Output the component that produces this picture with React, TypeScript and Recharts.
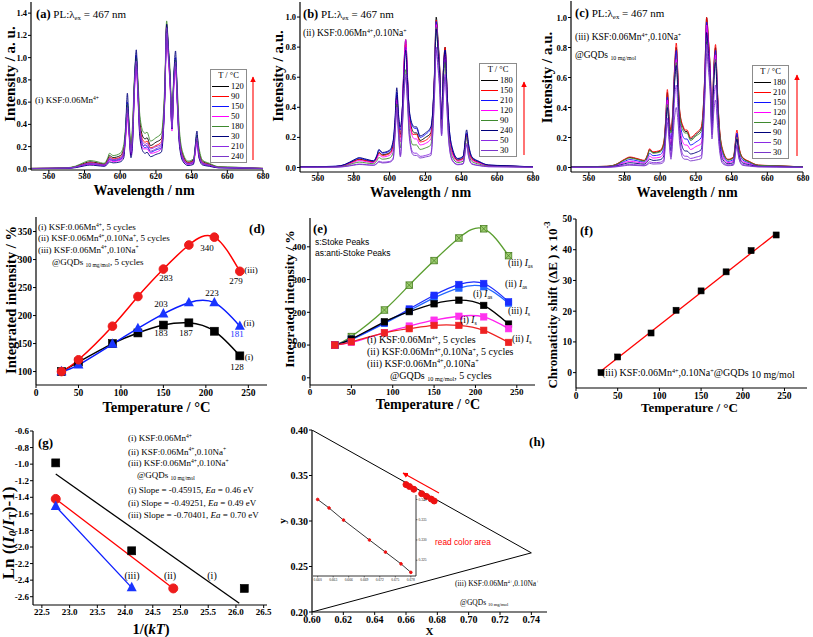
import React from 'react';
import { LineChart, ComposedChart, Line, Scatter, XAxis, YAxis } from 'recharts';

const SERIF = '"Liberation Serif", "Times New Roman", serif';
const SANS = '"Liberation Sans", Arial, sans-serif';

// ---------- (a)-(c) PL spectra ----------
const wavelengths = [550, 570, 575, 580, 583, 587, 591, 593, 594, 596, 600, 602, 603, 604, 605, 606, 607, 608, 609, 610, 611, 613, 614, 615, 617, 620, 623, 625, 626, 627, 628, 629, 630, 631, 632, 633, 635, 638, 641, 643, 644, 646, 650, 655, 665, 680];
const wlTicks = [560, 580, 600, 620, 640, 660, 680];

const tempsA = ['120', '90', '150', '50', '180', '30', '210', '240'];
const tempsB = ['180', '150', '210', '120', '90', '240', '50', '30'];
const tempsC = ['180', '210', '150', '120', '240', '90', '50', '30'];
const specColors = ['#000000', '#ff0000', '#1010ff', '#ff00ff', '#3e8a2e', '#00007a', '#8a2be2', '#7a36c8'];

// (a) KSF:0.06Mn4+
const a120 = [0.004, 0.009, 0.021, 0.051, 0.064, 0.055, 0.043, 0.085, 0.119, 0.102, 0.119, 0.187, 0.33, 0.55, 0.37, 0.19, 0.38, 0.8, 0.98, 0.72, 0.43, 0.28, 0.27, 0.28, 0.21, 0.24, 0.27, 0.72, 1.25, 1.05, 0.8, 0.4, 0.8, 0.95, 0.66, 0.34, 0.13, 0.06, 0.08, 0.27, 0.17, 0.07, 0.043, 0.017, 0.013, 0.004];
const a90 = [0.004, 0.008, 0.019, 0.045, 0.056, 0.049, 0.038, 0.075, 0.105, 0.09, 0.105, 0.165, 0.3, 0.5, 0.34, 0.17, 0.35, 0.76, 0.95, 0.68, 0.38, 0.25, 0.24, 0.25, 0.19, 0.21, 0.24, 0.7, 1.3, 1.02, 0.76, 0.38, 0.76, 0.9, 0.62, 0.31, 0.12, 0.055, 0.07, 0.25, 0.15, 0.06, 0.038, 0.015, 0.011, 0.004];
const a150 = [0.003, 0.006, 0.015, 0.036, 0.045, 0.039, 0.03, 0.06, 0.084, 0.072, 0.084, 0.132, 0.34, 0.6, 0.35, 0.13, 0.3, 0.78, 1.02, 0.68, 0.33, 0.2, 0.19, 0.2, 0.15, 0.17, 0.19, 0.68, 1.28, 1.06, 0.78, 0.36, 0.8, 1.0, 0.62, 0.28, 0.09, 0.045, 0.055, 0.3, 0.13, 0.05, 0.03, 0.012, 0.009, 0.003];
const a50 = [0.003, 0.006, 0.014, 0.033, 0.041, 0.036, 0.028, 0.055, 0.077, 0.066, 0.077, 0.121, 0.26, 0.45, 0.28, 0.12, 0.27, 0.7, 0.9, 0.6, 0.3, 0.18, 0.18, 0.18, 0.14, 0.15, 0.18, 0.62, 1.2, 0.98, 0.72, 0.34, 0.72, 0.88, 0.56, 0.26, 0.085, 0.04, 0.05, 0.22, 0.11, 0.045, 0.028, 0.011, 0.008, 0.003];
const a180 = [0.005, 0.01, 0.025, 0.06, 0.075, 0.065, 0.05, 0.1, 0.14, 0.12, 0.14, 0.22, 0.38, 0.58, 0.42, 0.22, 0.43, 0.84, 1.0, 0.78, 0.48, 0.33, 0.32, 0.33, 0.25, 0.28, 0.32, 0.78, 1.33, 1.1, 0.86, 0.45, 0.84, 0.98, 0.72, 0.39, 0.15, 0.07, 0.09, 0.3, 0.2, 0.08, 0.05, 0.02, 0.015, 0.005];
const a30 = [0.002, 0.005, 0.011, 0.027, 0.034, 0.029, 0.023, 0.045, 0.063, 0.054, 0.063, 0.1, 0.35, 0.68, 0.33, 0.1, 0.25, 0.78, 1.07, 0.65, 0.28, 0.15, 0.14, 0.15, 0.11, 0.13, 0.15, 0.66, 1.3, 1.08, 0.78, 0.36, 0.82, 1.06, 0.6, 0.24, 0.07, 0.03, 0.04, 0.34, 0.11, 0.036, 0.023, 0.009, 0.007, 0.002];
const a210 = [0.004, 0.007, 0.018, 0.042, 0.053, 0.046, 0.035, 0.07, 0.098, 0.084, 0.098, 0.154, 0.29, 0.5, 0.32, 0.16, 0.33, 0.72, 0.92, 0.64, 0.36, 0.23, 0.22, 0.23, 0.18, 0.2, 0.22, 0.66, 1.22, 1.0, 0.74, 0.37, 0.74, 0.92, 0.6, 0.3, 0.11, 0.05, 0.065, 0.24, 0.14, 0.056, 0.035, 0.014, 0.011, 0.004];
const a240 = [0.003, 0.007, 0.016, 0.039, 0.049, 0.042, 0.033, 0.065, 0.091, 0.078, 0.091, 0.143, 0.31, 0.55, 0.33, 0.15, 0.32, 0.77, 0.97, 0.67, 0.35, 0.21, 0.21, 0.21, 0.16, 0.18, 0.21, 0.68, 1.27, 1.04, 0.77, 0.37, 0.78, 0.96, 0.61, 0.29, 0.1, 0.045, 0.06, 0.28, 0.14, 0.052, 0.033, 0.013, 0.01, 0.003];

// (b) KSF:0.06Mn4+,0.10Na+
const b180 = [0.003, 0.007, 0.017, 0.043, 0.055, 0.047, 0.038, 0.072, 0.1, 0.085, 0.098, 0.15, 0.28, 0.48, 0.3, 0.22, 0.36, 0.68, 0.85, 0.6, 0.36, 0.24, 0.23, 0.23, 0.18, 0.2, 0.23, 0.62, 1.0, 0.85, 0.65, 0.3, 0.65, 0.8, 0.52, 0.28, 0.11, 0.05, 0.064, 0.22, 0.13, 0.06, 0.034, 0.014, 0.01, 0.003];
const b150 = [0.003, 0.006, 0.016, 0.04, 0.052, 0.044, 0.036, 0.068, 0.096, 0.08, 0.092, 0.144, 0.27, 0.47, 0.29, 0.2, 0.35, 0.66, 0.82, 0.58, 0.34, 0.22, 0.22, 0.22, 0.17, 0.18, 0.22, 0.6, 0.98, 0.83, 0.64, 0.29, 0.64, 0.8, 0.52, 0.27, 0.1, 0.048, 0.06, 0.22, 0.13, 0.056, 0.032, 0.014, 0.01, 0.003];
const b210 = [0.004, 0.008, 0.019, 0.048, 0.062, 0.052, 0.043, 0.081, 0.114, 0.095, 0.109, 0.171, 0.3, 0.5, 0.33, 0.25, 0.37, 0.64, 0.8, 0.58, 0.37, 0.27, 0.26, 0.26, 0.2, 0.22, 0.26, 0.6, 0.97, 0.82, 0.63, 0.31, 0.63, 0.78, 0.51, 0.3, 0.12, 0.057, 0.071, 0.23, 0.15, 0.067, 0.038, 0.016, 0.011, 0.004];
const b120 = [0.003, 0.006, 0.014, 0.035, 0.046, 0.039, 0.032, 0.06, 0.084, 0.07, 0.081, 0.126, 0.26, 0.45, 0.27, 0.17, 0.35, 0.68, 0.85, 0.59, 0.33, 0.2, 0.19, 0.19, 0.15, 0.16, 0.19, 0.58, 0.95, 0.8, 0.61, 0.27, 0.6, 0.75, 0.49, 0.25, 0.09, 0.042, 0.053, 0.2, 0.11, 0.049, 0.028, 0.012, 0.008, 0.003];
const b90 = [0.002, 0.004, 0.011, 0.028, 0.036, 0.03, 0.025, 0.047, 0.066, 0.055, 0.063, 0.1, 0.24, 0.42, 0.25, 0.13, 0.28, 0.53, 0.65, 0.47, 0.26, 0.15, 0.15, 0.15, 0.12, 0.13, 0.15, 0.56, 0.93, 0.78, 0.6, 0.26, 0.56, 0.7, 0.46, 0.22, 0.07, 0.033, 0.041, 0.2, 0.1, 0.039, 0.022, 0.009, 0.007, 0.002];
const b240 = [0.004, 0.008, 0.02, 0.05, 0.065, 0.055, 0.045, 0.085, 0.12, 0.1, 0.115, 0.18, 0.32, 0.53, 0.35, 0.27, 0.37, 0.62, 0.78, 0.57, 0.38, 0.28, 0.27, 0.27, 0.21, 0.23, 0.27, 0.58, 0.92, 0.78, 0.6, 0.32, 0.63, 0.78, 0.52, 0.3, 0.13, 0.06, 0.075, 0.25, 0.16, 0.07, 0.04, 0.017, 0.012, 0.004];
const b50 = [0.001, 0.003, 0.007, 0.018, 0.023, 0.019, 0.016, 0.03, 0.042, 0.035, 0.04, 0.063, 0.22, 0.4, 0.22, 0.08, 0.25, 0.5, 0.62, 0.44, 0.22, 0.1, 0.095, 0.095, 0.074, 0.08, 0.095, 0.48, 0.8, 0.68, 0.52, 0.22, 0.48, 0.62, 0.4, 0.18, 0.05, 0.021, 0.026, 0.16, 0.08, 0.025, 0.014, 0.006, 0.004, 0.001];
const b30 = [0.001, 0.002, 0.006, 0.015, 0.02, 0.017, 0.014, 0.026, 0.036, 0.03, 0.035, 0.054, 0.21, 0.38, 0.21, 0.07, 0.24, 0.48, 0.6, 0.42, 0.2, 0.085, 0.08, 0.08, 0.063, 0.07, 0.08, 0.46, 0.78, 0.66, 0.5, 0.21, 0.46, 0.6, 0.39, 0.17, 0.045, 0.018, 0.023, 0.15, 0.075, 0.021, 0.012, 0.005, 0.004, 0.001];

// (c) KSF:0.06Mn4+,0.10Na+@GQDs
const c180 = [0.004, 0.008, 0.019, 0.052, 0.067, 0.057, 0.046, 0.086, 0.119, 0.1, 0.109, 0.162, 0.3, 0.5, 0.32, 0.24, 0.36, 0.64, 0.8, 0.58, 0.36, 0.26, 0.24, 0.24, 0.19, 0.22, 0.26, 0.62, 1.0, 0.85, 0.65, 0.32, 0.65, 0.8, 0.52, 0.29, 0.11, 0.052, 0.067, 0.22, 0.14, 0.067, 0.038, 0.015, 0.011, 0.004];
const c210 = [0.004, 0.008, 0.02, 0.055, 0.07, 0.06, 0.048, 0.09, 0.125, 0.105, 0.115, 0.17, 0.31, 0.52, 0.33, 0.25, 0.37, 0.66, 0.83, 0.6, 0.37, 0.27, 0.25, 0.25, 0.2, 0.23, 0.27, 0.63, 1.0, 0.86, 0.66, 0.33, 0.66, 0.82, 0.53, 0.3, 0.12, 0.055, 0.07, 0.25, 0.15, 0.07, 0.04, 0.016, 0.012, 0.004];
const c150 = [0.003, 0.006, 0.015, 0.041, 0.053, 0.045, 0.036, 0.068, 0.094, 0.079, 0.086, 0.128, 0.28, 0.47, 0.29, 0.19, 0.33, 0.62, 0.78, 0.55, 0.32, 0.2, 0.19, 0.19, 0.15, 0.17, 0.2, 0.6, 0.97, 0.82, 0.63, 0.29, 0.62, 0.78, 0.5, 0.26, 0.09, 0.041, 0.053, 0.23, 0.12, 0.053, 0.03, 0.012, 0.009, 0.003];
const c120 = [0.002, 0.005, 0.012, 0.033, 0.042, 0.036, 0.029, 0.054, 0.075, 0.063, 0.069, 0.102, 0.26, 0.45, 0.27, 0.15, 0.3, 0.58, 0.72, 0.5, 0.28, 0.16, 0.15, 0.15, 0.12, 0.14, 0.16, 0.58, 0.95, 0.8, 0.61, 0.27, 0.6, 0.75, 0.48, 0.24, 0.072, 0.033, 0.042, 0.2, 0.1, 0.042, 0.024, 0.01, 0.007, 0.002];
const c240 = [0.004, 0.007, 0.018, 0.05, 0.063, 0.054, 0.043, 0.081, 0.113, 0.095, 0.104, 0.153, 0.26, 0.42, 0.28, 0.23, 0.32, 0.57, 0.7, 0.52, 0.34, 0.24, 0.23, 0.23, 0.18, 0.21, 0.24, 0.54, 0.84, 0.72, 0.56, 0.3, 0.58, 0.72, 0.47, 0.27, 0.11, 0.05, 0.063, 0.2, 0.13, 0.063, 0.036, 0.014, 0.011, 0.004];
const c90 = [0.002, 0.004, 0.009, 0.025, 0.032, 0.027, 0.022, 0.041, 0.056, 0.047, 0.052, 0.077, 0.24, 0.4, 0.24, 0.11, 0.27, 0.55, 0.68, 0.47, 0.24, 0.12, 0.11, 0.11, 0.09, 0.1, 0.12, 0.55, 0.9, 0.76, 0.58, 0.25, 0.56, 0.7, 0.45, 0.21, 0.054, 0.025, 0.032, 0.19, 0.09, 0.032, 0.018, 0.007, 0.005, 0.002];
const c50 = [0.001, 0.002, 0.006, 0.017, 0.021, 0.018, 0.014, 0.027, 0.038, 0.032, 0.035, 0.051, 0.2, 0.33, 0.2, 0.075, 0.22, 0.45, 0.55, 0.38, 0.19, 0.081, 0.075, 0.075, 0.06, 0.069, 0.081, 0.5, 0.82, 0.7, 0.53, 0.22, 0.45, 0.55, 0.36, 0.17, 0.036, 0.017, 0.021, 0.15, 0.07, 0.021, 0.012, 0.005, 0.004, 0.001];
const c30 = [0.001, 0.002, 0.004, 0.012, 0.015, 0.013, 0.011, 0.02, 0.028, 0.023, 0.025, 0.037, 0.18, 0.3, 0.17, 0.055, 0.18, 0.33, 0.4, 0.3, 0.15, 0.059, 0.055, 0.055, 0.044, 0.05, 0.059, 0.46, 0.76, 0.65, 0.49, 0.19, 0.37, 0.45, 0.3, 0.14, 0.026, 0.012, 0.015, 0.14, 0.065, 0.015, 0.009, 0.004, 0.003, 0.001];

const seriesA = [a120, a90, a150, a50, a180, a30, a210, a240];
const seriesB = [b180, b150, b210, b120, b90, b240, b50, b30];
const seriesC = [c180, c210, c150, c120, c240, c90, c50, c30];

// ---------- (d)-(f) vs temperature ----------
const temps = [30, 50, 90, 120, 150, 180, 210, 240];
const tempTicks = [0, 50, 100, 150, 200, 250];

const intensityI = [100, 117, 150, 169, 183, 187, 172, 128];
const intensityII = [100, 112, 149, 177, 203, 223, 223, 181];
const intensityIII = [100, 121, 181, 234, 283, 326, 340, 279];

const iiiAs = [100, 126, 207, 283, 358, 427, 455, 373];
const iiAs = [100, 118, 168, 210, 252, 285, 288, 232];
const iiiS = [100, 116, 166, 205, 244, 274, 278, 228];
const iAs = [100, 118, 171, 202, 226, 237, 221, 164];
const iiS = [100, 108, 138, 158, 176, 188, 186, 150];
const iS = [100, 110, 137, 150, 160, 160, 145, 108];

const shiftE = [0, 5.1, 12.9, 20.3, 26.6, 32.8, 39.7, 44.8];
const shiftFitT = [30, 240];
const shiftFit = [0.5, 45.3];

// ---------- (g) Arrhenius ----------
const invKtI = [22.75, 24.12, 26.15];
const lnI = [-0.985, -2.046, -2.5];
const fitIx = [22.75, 26.06];
const fitIy = [-1.12, -2.68];
const invKtII = [22.75, 24.87];
const lnII = [-1.42, -2.5];
const invKtIII = [22.75, 24.12];
const lnIII = [-1.51, -2.49];

// ---------- (h) CIE ----------
const gamutX = [0.6, 0.74, 0.6];
const gamutY = [0.4, 0.265, 0.2];
const cieX = [0.66, 0.6622, 0.665, 0.67, 0.6731, 0.6761, 0.678];
const cieY = [0.34, 0.3379, 0.3349, 0.33, 0.327, 0.3241, 0.322];

const axisStyle = { stroke: '#000', strokeWidth: 1.2 };
const tickStyle = (size: number) => ({ fontSize: size, fontWeight: 700, fill: '#000', fontFamily: SERIF });

const Sup = ({ children }: any) => (
  <span style={{ fontSize: '0.62em', position: 'relative', top: '-0.55em' }}>{children}</span>
);
const Sub = ({ children }: any) => (
  <span style={{ fontSize: '0.62em', position: 'relative', top: '0.3em' }}>{children}</span>
);

function Txt({ x, y, size = 9, bold = false, center = false, color = '#000', font = SERIF, children }: any) {
  return (
    <div
      style={{
        position: 'absolute', left: x, top: y,
        transform: center ? 'translate(-50%, -50%)' : 'translateY(-50%)',
        fontSize: size, fontWeight: bold ? 700 : 400, color, fontFamily: font,
        whiteSpace: 'nowrap', lineHeight: 1,
      }}
    >
      {children}
    </div>
  );
}

const yTitle = (x: number, shift: number, size: number, body: React.ReactNode) =>
  function YTitle(p: any) {
    const vb = p.viewBox ?? { y: 0, height: 0 };
    const cy = vb.y + vb.height / 2 + shift;
    return (
      <text x={x} y={cy} transform={`rotate(-90 ${x} ${cy})`} textAnchor="middle" dominantBaseline="central"
        fill="#000" style={{ fontFamily: SERIF, fontWeight: 700, fontSize: size }}>
        {body}
      </text>
    );
  };

const xTitle = (cy: number, shift: number, size: number, body: React.ReactNode) =>
  function XTitle(p: any) {
    const vb = p.viewBox ?? { x: 0, width: 0 };
    const cx = vb.x + vb.width / 2 + shift;
    return (
      <text x={cx} y={cy} textAnchor="middle" dominantBaseline="central" fill="#000"
        style={{ fontFamily: SERIF, fontWeight: 700, fontSize: size }}>
        {body}
      </text>
    );
  };

// top and right axis lines close the box
const frame = (xd: number[], yd: number[]) => [
  <XAxis key="fx" xAxisId="top" orientation="top" type="number" domain={xd} height={0} tick={false} tickLine={false} axisLine={axisStyle} allowDataOverflow />,
  <YAxis key="fy" yAxisId="right" orientation="right" type="number" domain={yd} width={0} tick={false} tickLine={false} axisLine={axisStyle} allowDataOverflow />,
];

const squareDot = (size: number, fill: string, stroke = fill) => (p: any) => {
  if (p.cx == null || p.cy == null) return <g key={p.index} />;
  return <rect key={p.index} x={p.cx - size / 2} y={p.cy - size / 2} width={size} height={size} fill={fill} stroke={stroke} strokeWidth={0.6} />;
};
const crossDot = (size: number, fill: string, stroke: string) => (p: any) => {
  if (p.cx == null || p.cy == null) return <g key={p.index} />;
  const h = size / 2;
  return (
    <g key={p.index}>
      <rect x={p.cx - h} y={p.cy - h} width={size} height={size} fill={fill} stroke={stroke} strokeWidth={0.8} />
      <path d={`M${p.cx - h},${p.cy - h}L${p.cx + h},${p.cy + h}M${p.cx + h},${p.cy - h}L${p.cx - h},${p.cy + h}`} stroke={stroke} strokeWidth={0.7} />
    </g>
  );
};
const circleDot = (r: number, fill: string) => (p: any) => {
  if (p.cx == null || p.cy == null) return <g key={p.index} />;
  return <circle key={p.index} cx={p.cx} cy={p.cy} r={r} fill={fill} stroke={fill} />;
};
const triangleDot = (size: number, fill: string) => (p: any) => {
  if (p.cx == null || p.cy == null) return <g key={p.index} />;
  const { cx, cy } = p;
  return <path key={p.index} d={`M${cx},${cy - size * 0.58}L${cx + size / 2},${cy + size * 0.36}L${cx - size / 2},${cy + size * 0.36}Z`} fill={fill} />;
};

function SpectrumPanel(props: any) {
  const { left, width, margin, yAxisWidth, series, yDomain, yTicks, title, yTitleX, yTitleShift, xTitleShift, xTitleY } = props;
  const rows = wavelengths.map((w, i) => {
    const r: Record<string, number> = { w };
    series.forEach((s: number[], k: number) => { r['s' + k] = s[i]; });
    return r;
  });
  return (
    <div style={{ position: 'absolute', left, top: 0 }}>
      <LineChart width={width} height={210} data={rows} margin={margin}>
        <XAxis dataKey="w" type="number" domain={[550, 680]} ticks={wlTicks} interval={0} height={30}
          tick={tickStyle(8.5)} tickSize={3} tickMargin={0} axisLine={axisStyle} tickLine={{ stroke: '#000' }} allowDataOverflow
          label={{ content: xTitle(xTitleY, xTitleShift, 14, 'Wavelength / nm') }} />
        <YAxis type="number" domain={yDomain} ticks={yTicks} interval={0} width={yAxisWidth}
          tick={tickStyle(8.5)} tickSize={3} tickMargin={1} axisLine={axisStyle} tickLine={{ stroke: '#000' }} allowDataOverflow
          tickFormatter={(v: number) => v.toFixed(1)}
          label={{ content: yTitle(yTitleX, yTitleShift, 15, title) }} />
        {frame([550, 680], yDomain)}
        {series.map((_: number[], k: number) => (
          <Line key={k} dataKey={'s' + k} type="monotone" stroke={specColors[k]} strokeWidth={0.9} dot={false} isAnimationActive={false} />
        ))}
      </LineChart>
    </div>
  );
}

function TempLegend({ x, y, w, temps: list }: any) {
  return (
    <div style={{ position: 'absolute', left: x, top: y, width: w, border: '1px solid #8c8c8c', background: '#fff', fontFamily: SERIF, fontSize: 8.5, boxSizing: 'border-box', paddingBottom: 1 }}>
      <div style={{ height: 11, lineHeight: '11px', textAlign: 'center' }}>T / °C</div>
      {list.map((t: string, i: number) => (
        <div key={t} style={{ height: 10, display: 'flex', alignItems: 'center' }}>
          <span style={{ width: 17, marginLeft: 1, marginRight: 2, borderTop: `1.3px solid ${specColors[i]}` }} />
          <span>{t}</span>
        </div>
      ))}
    </div>
  );
}

const KSF = () => <>KSF:0.06Mn<Sup>4+</Sup></>;
const KSFNa = () => <>KSF:0.06Mn<Sup>4+</Sup>,0.10Na<Sup>+</Sup></>;

const tickCss = `
.fig .recharts-cartesian-axis-tick-value { font-family: "Liberation Serif", "Times New Roman", serif; font-weight: 700; }
.fig .inset .recharts-cartesian-axis-tick-value { font-weight: 400; }
`;

export default function App() {
  const dRows = temps.map((t, i) => ({ t, i: intensityI[i], ii: intensityII[i], iii: intensityIII[i] }));
  const eRows = temps.map((t, i) => ({ t, iiiAs: iiiAs[i], iiAs: iiAs[i], iiiS: iiiS[i], iAs: iAs[i], iiS: iiS[i], iS: iS[i] }));
  const fRows = temps.map((t, i) => ({ x: t, y: shiftE[i] }));
  const fFit = shiftFitT.map((t, i) => ({ x: t, y: shiftFit[i] }));
  const gRowsI = invKtI.map((x, i) => ({ x, y: lnI[i] }));
  const gFitI = fitIx.map((x, i) => ({ x, y: fitIy[i] }));
  const gRowsII = invKtII.map((x, i) => ({ x, y: lnII[i] }));
  const gRowsIII = invKtIII.map((x, i) => ({ x, y: lnIII[i] }));
  const gamut = gamutX.map((x, i) => ({ x, y: gamutY[i] }));
  const cie = cieX.map((x, i) => ({ x, y: cieY[i] }));

  const tAxisTitle = (cy: number, shift: number, size: number) => ({ content: xTitle(cy, shift, size, 'Temperature / °C') });

  return (
    <div className="fig" style={{ position: 'absolute', left: 0, top: 0, width: 813, height: 637, background: '#fff', overflow: 'hidden' }}>
      <style>{tickCss}</style>
      {/* (a) (b) (c) */}
      <SpectrumPanel left={0} width={280} margin={{ top: 2, right: 17, bottom: 10, left: 0 }} yAxisWidth={31}
        series={seriesA} yDomain={[-0.01, 1.5]} yTicks={[0, 0.2, 0.4, 0.6, 0.8, 1.0, 1.2, 1.4]}
        title="Intensity / a. u." yTitleX={10} yTitleShift={-12} xTitleShift={-3} xTitleY={190} />
      <SpectrumPanel left={270} width={280} margin={{ top: 2, right: 17, bottom: 8, left: 0 }} yAxisWidth={30}
        series={seriesB} yDomain={[-0.03, 1.1]} yTicks={[0, 0.2, 0.4, 0.6, 0.8, 1.0]}
        title="Intensity / a.u." yTitleX={8} yTitleShift={-11} xTitleShift={4} xTitleY={192} />
      <SpectrumPanel left={540} width={273} margin={{ top: 1, right: 10, bottom: 8, left: 0 }} yAxisWidth={31}
        series={seriesC} yDomain={[-0.03, 1.11]} yTicks={[0, 0.2, 0.4, 0.6, 0.8, 1.0]}
        title="Intensity / a.u." yTitleX={7} yTitleShift={-9} xTitleShift={0} xTitleY={192} />

      {/* (d) */}
      <div style={{ position: 'absolute', left: 0, top: 205 }}>
        <LineChart width={270} height={210} data={dRows} margin={{ top: 12, right: 3, bottom: 5, left: 0 }}>
          <XAxis dataKey="t" type="number" domain={[0, 272]} ticks={tempTicks} interval={0} height={25}
            tick={tickStyle(9.5)} tickSize={3} tickMargin={1} axisLine={axisStyle} tickLine={{ stroke: '#000' }} allowDataOverflow
            label={tAxisTitle(202, 5, 14.5)} />
          <YAxis type="number" domain={[76, 376]} ticks={[100, 150, 200, 250, 300, 350]} interval={0} width={36}
            tick={tickStyle(9.5)} tickSize={3} tickMargin={1} axisLine={axisStyle} tickLine={{ stroke: '#000' }} allowDataOverflow
            label={{ content: yTitle(11, -1, 14.5, 'Integrated intensity / %') }} />
          {frame([0, 272], [76, 376])}
          <Line dataKey="i" type="natural" stroke="#000" strokeWidth={1.5} dot={squareDot(8, '#000')} isAnimationActive={false} />
          <Line dataKey="ii" type="natural" stroke="#0a1cff" strokeWidth={1.5} dot={triangleDot(10, '#1a35ff')} isAnimationActive={false} />
          <Line dataKey="iii" type="natural" stroke="#ff0000" strokeWidth={1.5} dot={circleDot(4.3, '#ee1c1c')} isAnimationActive={false} />
        </LineChart>
      </div>

      {/* (e) */}
      <div style={{ position: 'absolute', left: 270, top: 205 }}>
        <LineChart width={270} height={210} data={eRows} margin={{ top: 13, right: 5, bottom: 5, left: 0 }}>
          <XAxis dataKey="t" type="number" domain={[0, 272]} ticks={tempTicks} interval={0} height={25}
            tick={tickStyle(9)} tickSize={3} tickMargin={1} axisLine={axisStyle} tickLine={{ stroke: '#000' }} allowDataOverflow
            label={tAxisTitle(199, 5.5, 14)} />
          <YAxis type="number" domain={[-22, 488]} ticks={[0, 100, 200, 300, 400]} interval={0} width={40}
            tick={tickStyle(9)} tickSize={3} tickMargin={1} axisLine={axisStyle} tickLine={{ stroke: '#000' }} allowDataOverflow
            label={{ content: yTitle(19, -2.5, 13.5, 'Integrated intensity / %') }} />
          {frame([0, 272], [-22, 488])}
          <Line dataKey="iiiAs" type="natural" stroke="#5a9e2f" strokeWidth={1.3} dot={crossDot(6.5, '#9ccc70', '#4a7f22')} isAnimationActive={false} />
          <Line dataKey="iiiS" type="natural" stroke="#2266ff" strokeWidth={1.3} dot={squareDot(6.5, '#2266ff')} isAnimationActive={false} />
          <Line dataKey="iiAs" type="natural" stroke="#1a2cff" strokeWidth={1.3} dot={squareDot(6.5, '#1a2cff')} isAnimationActive={false} />
          <Line dataKey="iAs" type="natural" stroke="#000" strokeWidth={1.3} dot={squareDot(6.5, '#000')} isAnimationActive={false} />
          <Line dataKey="iiS" type="natural" stroke="#ff22ee" strokeWidth={1.3} dot={squareDot(6.5, '#ff33ee')} isAnimationActive={false} />
          <Line dataKey="iS" type="natural" stroke="#ee2222" strokeWidth={1.3} dot={squareDot(6.5, '#ee2222')} isAnimationActive={false} />
        </LineChart>
      </div>

      {/* (f) */}
      <div style={{ position: 'absolute', left: 540, top: 205 }}>
        <ComposedChart width={273} height={210} margin={{ top: 14, right: 6, bottom: 5, left: 0 }}>
          <XAxis dataKey="x" type="number" domain={[0, 277]} ticks={tempTicks} interval={0} height={22}
            tick={tickStyle(9.5)} tickSize={3} tickMargin={1} axisLine={axisStyle} tickLine={{ stroke: '#000' }} allowDataOverflow
            label={tAxisTitle(202, -2, 13)} />
          <YAxis dataKey="y" type="number" domain={[-5, 50]} ticks={[0, 10, 20, 30, 40, 50]} interval={0} width={36}
            tick={tickStyle(9.5)} tickSize={3} tickMargin={1} axisLine={axisStyle} tickLine={{ stroke: '#000' }} allowDataOverflow
            label={{ content: yTitle(12, 1.5, 13, <>Chromaticity shift (ΔE ) x 10<tspan fontSize={8.5} dy={-5}>-3</tspan></>) }} />
          {frame([0, 277], [-5, 50])}
          <Line data={fFit} dataKey="y" type="linear" stroke="#ff0000" strokeWidth={1.3} dot={false} isAnimationActive={false} />
          <Scatter data={fRows} shape={squareDot(6, '#000')} isAnimationActive={false} />
        </ComposedChart>
      </div>

      {/* (g) */}
      <div style={{ position: 'absolute', left: 0, top: 410 }}>
        <ComposedChart width={280} height={227} margin={{ top: 21, right: 13, bottom: 7, left: 0 }}>
          <XAxis dataKey="x" type="number" domain={[22.34, 26.56]} ticks={[22.5, 23, 23.5, 24, 24.5, 25, 25.5, 26, 26.5]} interval={0} height={25}
            tick={tickStyle(9)} tickSize={3} tickMargin={1} axisLine={axisStyle} tickLine={{ stroke: '#000' }} allowDataOverflow
            tickFormatter={(v: number) => v.toFixed(1)}
            label={{ content: xTitle(219, 1, 14.5, <>1/(<tspan fontStyle="italic">kT</tspan>)</>) }} />
          <YAxis dataKey="y" type="number" domain={[-2.7, -0.6]} ticks={[-2.6, -2.4, -2.2, -2.0, -1.8, -1.6, -1.4, -1.2, -1.0, -0.8, -0.6]} interval={0} width={33}
            tick={tickStyle(9)} tickSize={3} tickMargin={1} axisLine={axisStyle} tickLine={{ stroke: '#000' }} allowDataOverflow
            tickFormatter={(v: number) => v.toFixed(1)}
            label={{
              content: yTitle(8, 15, 17, <>Ln ((<tspan fontStyle="italic">I</tspan><tspan fontStyle="italic" fontSize={11} dy={4}>0</tspan><tspan dy={-4}>/</tspan><tspan fontStyle="italic">I</tspan><tspan fontSize={11} dy={4}>T</tspan><tspan dy={-4}>)-1)</tspan></>),
            }} />
          {frame([22.34, 26.56], [-2.7, -0.6])}
          <Line data={gFitI} dataKey="y" type="linear" stroke="#000" strokeWidth={1.3} dot={false} isAnimationActive={false} />
          <Line data={gRowsII} dataKey="y" type="linear" stroke="#ff0000" strokeWidth={1.3} dot={circleDot(4.5, '#ee1c1c')} isAnimationActive={false} />
          <Line data={gRowsIII} dataKey="y" type="linear" stroke="#0a1cff" strokeWidth={1.3} dot={triangleDot(10, '#1a35ff')} isAnimationActive={false} />
          <Scatter data={gRowsI} shape={squareDot(8, '#000')} isAnimationActive={false} />
        </ComposedChart>
      </div>

      {/* (h) */}
      <div style={{ position: 'absolute', left: 270, top: 410 }}>
        <ComposedChart width={285} height={227} margin={{ top: 20, right: 8, bottom: 5, left: 0 }}>
          <XAxis dataKey="x" type="number" domain={[0.6, 0.75]} ticks={[0.6, 0.62, 0.64, 0.66, 0.68, 0.7, 0.72, 0.74]} interval={0} height={20}
            tick={tickStyle(10)} tickSize={3} tickMargin={1} axisLine={axisStyle} tickLine={{ stroke: '#000' }} allowDataOverflow
            tickFormatter={(v: number) => v.toFixed(2)}
            label={{ content: xTitle(221, 0, 11, 'X') }} />
          <YAxis dataKey="y" type="number" domain={[0.2, 0.4]} ticks={[0.2, 0.25, 0.3, 0.35, 0.4]} interval={0} width={42}
            tick={tickStyle(10)} tickSize={3} tickMargin={1} axisLine={axisStyle} tickLine={{ stroke: '#000' }} allowDataOverflow
            tickFormatter={(v: number) => v.toFixed(2)}
            label={{ content: yTitle(12, 0, 11, 'y') }} />
          {frame([0.6, 0.75], [0.2, 0.4])}
          <Line data={gamut} dataKey="y" type="linear" stroke="#000" strokeWidth={1} dot={false} isAnimationActive={false} />
          <Scatter data={cie} shape={circleDot(3, '#ee1111')} isAnimationActive={false} />
        </ComposedChart>
      </div>

      {/* (h) inset */}
      <div className="inset" style={{ position: 'absolute', left: 311, top: 492 }}>
        <ComposedChart width={128} height={92} margin={{ top: 3, right: 0, bottom: 0, left: 2 }}>
          <XAxis dataKey="x" type="number" domain={[0.6591, 0.679]} ticks={[0.66, 0.663, 0.666, 0.669, 0.672, 0.675, 0.678]} interval={0} height={8}
            tick={{ fontSize: 3.6, fill: '#222', fontFamily: SERIF }} tickSize={1.5} tickMargin={0.5}
            axisLine={{ stroke: '#000', strokeWidth: 0.8 }} tickLine={{ stroke: '#000', strokeWidth: 0.5 }} allowDataOverflow
            tickFormatter={(v: number) => v.toFixed(3)} />
          <YAxis dataKey="y" orientation="right" type="number" domain={[0.3211, 0.3411]} ticks={[0.325, 0.33, 0.335, 0.34]} interval={0} width={23}
            tick={{ fontSize: 3.6, fill: '#222', fontFamily: SERIF }} tickSize={1.5} tickMargin={1}
            axisLine={{ stroke: '#000', strokeWidth: 0.8 }} tickLine={{ stroke: '#000', strokeWidth: 0.5 }} allowDataOverflow
            tickFormatter={(v: number) => v.toFixed(3)} />
          <XAxis xAxisId="top" orientation="top" type="number" domain={[0.6591, 0.679]} height={0} tick={false} tickLine={false} axisLine={{ stroke: '#000', strokeWidth: 0.8 }} />
          <YAxis yAxisId="left" orientation="left" type="number" domain={[0.3211, 0.3411]} width={0} tick={false} tickLine={false} axisLine={{ stroke: '#000', strokeWidth: 0.8 }} />
          <Line data={cie} dataKey="y" type="linear" stroke="#000" strokeWidth={0.8} dot={circleDot(1.3, '#ee1111')} isAnimationActive={false} />
        </ComposedChart>
      </div>

      {/* arrows */}
      <svg width={813} height={637} style={{ position: 'absolute', left: 0, top: 0, pointerEvents: 'none' }}>
        <defs>
          <marker id="headRed" viewBox="0 0 10 10" refX="9" refY="5" markerWidth="5" markerHeight="5" orient="auto">
            <path d="M0,0L10,5L0,10Z" fill="#ff0000" />
          </marker>
        </defs>
        <line x1={253} y1={160} x2={253} y2={77} stroke="#ff0000" strokeWidth={1.1} markerEnd="url(#headRed)" />
        <line x1={524} y1={155} x2={524} y2={82} stroke="#ff0000" strokeWidth={1.1} markerEnd="url(#headRed)" />
        <line x1={797} y1={156} x2={797} y2={75} stroke="#ff0000" strokeWidth={1.1} markerEnd="url(#headRed)" />
        <line x1={439} y1={493} x2={403} y2={473} stroke="#ff0000" strokeWidth={1.1} markerEnd="url(#headRed)" />
      </svg>

      {/* (a)-(c) annotations */}
      <Txt x={36} y={14} size={11}><b style={{ fontSize: 12.5 }}>(a)</b> PL:λ<Sub>ex</Sub> = 467 nm</Txt>
      <Txt x={35} y={100} size={9}>(i) <KSF /></Txt>
      <TempLegend x={210} y={69} w={37} temps={tempsA} />

      <Txt x={303} y={14} size={11}><b style={{ fontSize: 12.5 }}>(b)</b> PL:λ<Sub>ex</Sub> = 467 nm</Txt>
      <Txt x={303} y={34} size={9.5}>(ii) <KSFNa /></Txt>
      <TempLegend x={479} y={63} w={38} temps={tempsB} />

      <Txt x={575} y={13} size={11}><b style={{ fontSize: 12.5 }}>(c)</b> PL:λ<Sub>ex</Sub> = 467 nm</Txt>
      <Txt x={575} y={38} size={9.5}>(iii) <KSFNa /></Txt>
      <Txt x={575} y={56} size={9.5}>@GQDs <Sub>10 mg/mol</Sub></Txt>
      <TempLegend x={752} y={65} w={37} temps={tempsC} />

      {/* (d) annotations */}
      <Txt x={38} y={227} size={9}>(i) <KSF />, 5 cycles</Txt>
      <Txt x={38} y={238} size={9}>(ii) <KSFNa />, 5 cycles</Txt>
      <Txt x={38} y={249.5} size={9}>(iii) <KSFNa /></Txt>
      <Txt x={52} y={262} size={9}>@GQDs <Sub>10 mg/mol</Sub>, 5 cycles</Txt>
      <Txt x={257} y={228} size={13} bold center>(d)</Txt>
      <Txt x={207} y={248} size={9} center>340</Txt>
      <Txt x={166} y={278} size={9} center>283</Txt>
      <Txt x={236} y={281} size={9} center>279</Txt>
      <Txt x={251} y={270} size={9} center>(iii)</Txt>
      <Txt x={161} y={304} size={9} center>203</Txt>
      <Txt x={212} y={293} size={9} center>223</Txt>
      <Txt x={249} y={323} size={9} center>(ii)</Txt>
      <Txt x={237} y={334} size={9} center color="#1a35ff">181</Txt>
      <Txt x={161} y={333} size={9} center>183</Txt>
      <Txt x={186} y={333} size={9} center>187</Txt>
      <Txt x={249} y={357} size={9} center>(i)</Txt>
      <Txt x={237} y={367} size={9} center>128</Txt>

      {/* (e) annotations */}
      <Txt x={313} y={228} size={13} bold>(e)</Txt>
      <Txt x={315} y={242} size={8.5} font={SANS}>s:Stoke Peaks</Txt>
      <Txt x={315} y={253} size={8.5} font={SANS}>as:anti-Stoke Peaks</Txt>
      <Txt x={508} y={264} size={9.5}>(iii) <i>I</i><Sub>as</Sub></Txt>
      <Txt x={505} y={285} size={9.5}>(ii) <i>I</i><Sub>as</Sub></Txt>
      <Txt x={473} y={295} size={9.5}>(i) <i>I</i><Sub>as</Sub></Txt>
      <Txt x={508} y={312} size={9.5}>(iii) <i>I</i><Sub>s</Sub></Txt>
      <Txt x={460} y={321} size={9.5}>(i) <i>I</i><Sub>s</Sub></Txt>
      <Txt x={512} y={340} size={9.5}>(ii) <i>I</i><Sub>s</Sub></Txt>
      <Txt x={367} y={340} size={10}>(i) <KSF />, 5 cycles</Txt>
      <Txt x={367} y={352} size={10}>(ii) <KSFNa />, 5 cycles</Txt>
      <Txt x={367} y={363.5} size={10}>(iii) <KSFNa /></Txt>
      <Txt x={390} y={376} size={10}>@GQDs <Sub>10 mg/mol</Sub>, 5 cycles</Txt>

      {/* (f) annotations */}
      <Txt x={580} y={230} size={13} bold>(f)</Txt>
      <Txt x={602} y={373} size={10}>(iii) <KSFNa />@GQDs <span style={{ position: 'relative', top: '0.2em' }}>10 mg/mol</span></Txt>

      {/* (g) annotations */}
      <Txt x={38} y={442} size={13} bold>(g)</Txt>
      <Txt x={128} y={438} size={9}>(i) <KSF /></Txt>
      <Txt x={128} y={451.5} size={9}>(ii) <KSFNa /></Txt>
      <Txt x={128} y={463} size={9}>(iii) <KSFNa /></Txt>
      <Txt x={137} y={475} size={9}>@GQDs <Sub>10 mg/mol</Sub></Txt>
      <Txt x={128} y={490} size={9}>(i) Slope = -0.45915, <i>Ea</i> = 0.46 eV</Txt>
      <Txt x={128} y={502.5} size={9}>(ii) Slope = -0.49251, <i>Ea</i> = 0.49 eV</Txt>
      <Txt x={128} y={515} size={9}>(iii) Slope = -0.70401, <i>Ea</i> = 0.70 eV</Txt>
      <Txt x={132} y={576} size={10} center>(iii)</Txt>
      <Txt x={170} y={576} size={10} center>(ii)</Txt>
      <Txt x={212} y={576} size={10} center>(i)</Txt>

      {/* (h) annotations */}
      <Txt x={537} y={441} size={13} bold center>(h)</Txt>
      <Txt x={435} y={542} size={8.3} font={SANS} color="#ff0000">read color area</Txt>
      <Txt x={455} y={584} size={7.5}>(iii) <KSFNa /></Txt>
      <Txt x={460} y={603} size={7.5}>@GQDs <Sub>10 mg/mol</Sub></Txt>
    </div>
  );
}
